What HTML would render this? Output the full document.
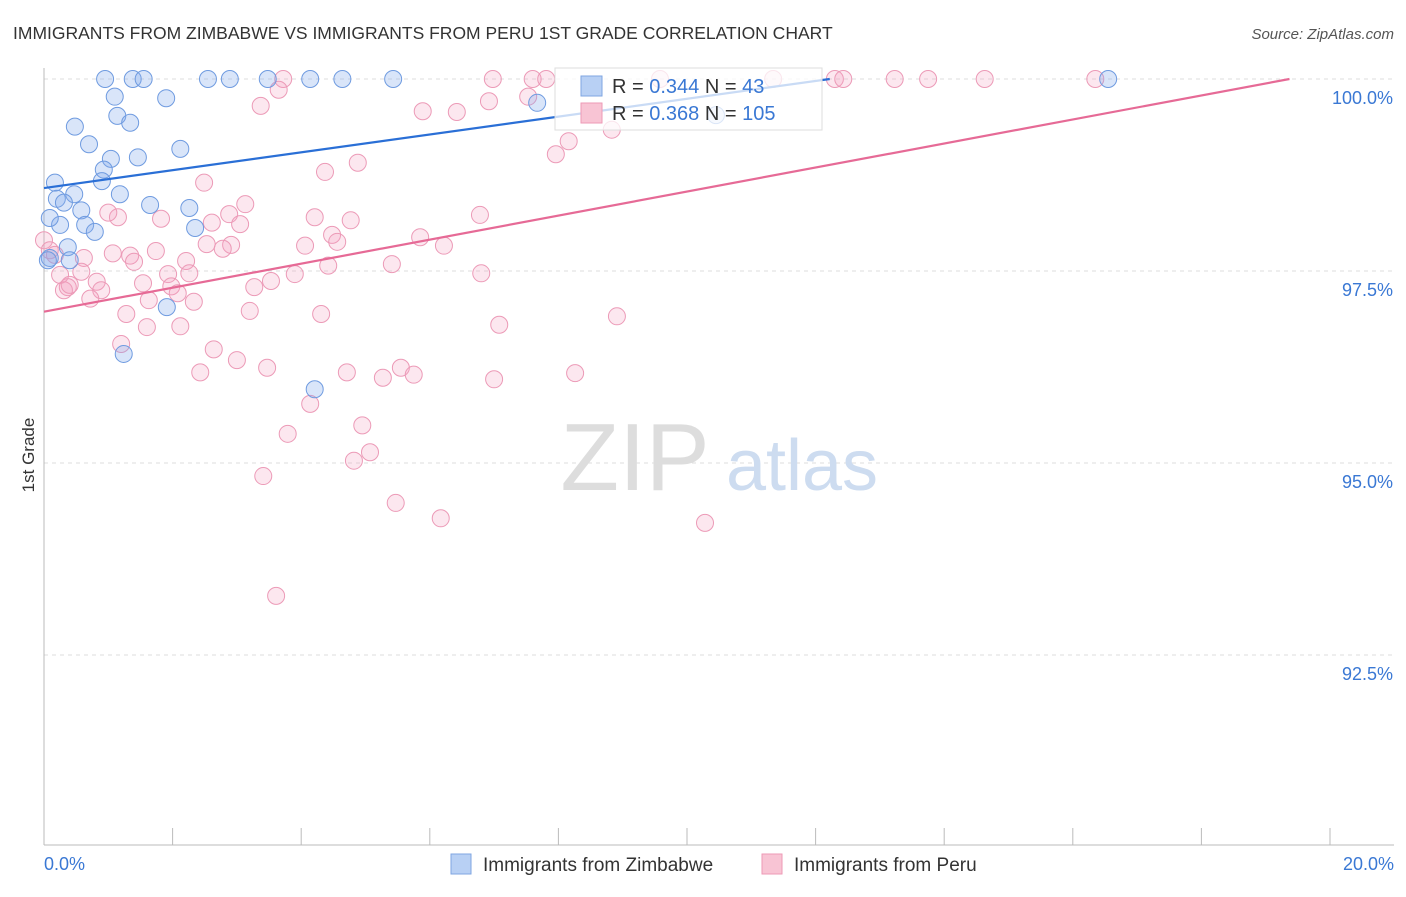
<!DOCTYPE html>
<html><head><meta charset="utf-8"><style>
body{margin:0;background:#fff;font-family:"Liberation Sans",sans-serif;}
svg text{font-family:"Liberation Sans",sans-serif;}
</style></head><body>
<svg id="chart" width="1406" height="892" xmlns="http://www.w3.org/2000/svg">
<text x="13" y="39" font-size="17.5" fill="#333">IMMIGRANTS FROM ZIMBABWE VS IMMIGRANTS FROM PERU 1ST GRADE CORRELATION CHART</text>
<text x="1394" y="39" font-size="15" fill="#555" text-anchor="end" font-style="italic">Source: ZipAtlas.com</text>
<text transform="translate(34,455) rotate(-90)" font-size="17" fill="#333" text-anchor="middle">1st Grade</text>
<g id="grid"></g>
<g>
<text x="635" y="490" font-size="96" fill="#ddd" text-anchor="middle" font-family="Liberation Serif,serif">ZIP</text>
<text x="802" y="490" font-size="72" fill="#cddcf0" text-anchor="middle">atlas</text>
</g>
<g id="axes"></g>
<g id="pts"></g>
<g id="lines"></g>
<g>
<rect x="555" y="68" width="267" height="62" fill="#fff" fill-opacity="0.75" stroke="#ddd"/>
<rect x="581" y="76" width="21" height="20" fill="#b8d0f4" stroke="#7fa6e2"/>
<rect x="581" y="103" width="21" height="20" fill="#f8c4d4" stroke="#ee9ab6"/>
<text x="612" y="93" font-size="20" fill="#333">R = <tspan fill="#3a78d4">0.344</tspan>   N =  <tspan fill="#3a78d4">43</tspan></text>
<text x="612" y="120" font-size="20" fill="#333">R = <tspan fill="#3a78d4">0.368</tspan>   N = <tspan fill="#3a78d4">105</tspan></text>
</g>
<g>
<rect x="451" y="854" width="20" height="20" fill="#b8d0f4" stroke="#7fa6e2"/>
<text x="483" y="871" font-size="19" fill="#333">Immigrants from Zimbabwe</text>
<rect x="762" y="854" width="20" height="20" fill="#f8c4d4" stroke="#ee9ab6"/>
<text x="794" y="871" font-size="19" fill="#333">Immigrants from Peru</text>
</g>
</svg>
<script>
const yTicks=[100,97.5,95,92.5];
const yTickLabels=["100.0%","97.5%","95.0%","92.5%"];
const xTickLabels=["0.0%","20.0%"];
const blueX=[0.95,1.38,1.55,2.55,2.89,3.48,4.14,4.64,5.43,16.55,1.10,1.90,1.14,1.34,0.48,0.70,2.12,1.04,1.46,0.93,0.17,0.90,1.18,0.47,0.20,0.31,1.65,0.58,2.26,0.25,0.64,2.35,0.79,0.09,0.37,0.09,0.40,1.91,1.24,4.21,7.67,10.45,0.06];
const blueY=[100,100,100,100,100,100,100,100,100,100,99.77,99.75,99.52,99.43,99.38,99.15,99.09,98.96,98.98,98.82,98.65,98.67,98.50,98.50,98.44,98.39,98.36,98.29,98.32,98.10,98.10,98.06,98.01,98.19,97.81,97.67,97.64,97.03,96.42,95.96,99.69,99.53,97.64];
const pinkX=[3.72,6.98,7.60,7.81,9.58,11.34,12.30,12.43,13.23,13.75,14.63,16.35,3.65,3.37,5.89,6.42,6.92,7.53,8.16,7.96,8.83,4.88,4.37,2.49,3.13,2.88,6.78,4.21,4.77,2.61,3.05,1.15,1.00,1.82,4.48,4.56,5.85,6.22,2.53,4.06,2.91,2.78,1.74,1.07,1.34,2.21,1.40,0.62,4.42,5.41,6.80,2.26,1.93,0.58,0.82,1.54,1.98,3.53,3.90,3.27,0.89,0.37,0.31,2.08,0.72,1.63,2.33,3.20,1.28,4.31,1.60,2.12,7.08,8.91,1.20,2.64,3.00,2.43,3.47,4.71,5.27,5.55,5.75,7.00,8.26,4.14,4.95,3.79,5.07,4.82,3.41,5.47,6.17,10.28,3.61,0,0.09,0.25,0.40,0.17];
const pinkY=[100,100,100,100,100,100,100,100,100,100,100,100,99.86,99.65,99.58,99.57,99.71,99.77,99.19,99.02,99.34,98.91,98.79,98.65,98.37,98.24,98.23,98.20,98.16,98.13,98.11,98.20,98.26,98.18,97.97,97.88,97.94,97.83,97.85,97.83,97.84,97.79,97.76,97.73,97.70,97.63,97.62,97.67,97.57,97.59,97.47,97.47,97.46,97.49,97.36,97.34,97.30,97.37,97.46,97.29,97.25,97.29,97.25,97.21,97.14,97.12,97.10,96.98,96.94,96.94,96.77,96.78,96.80,96.91,96.55,96.48,96.34,96.18,96.24,96.18,96.11,96.24,96.15,96.09,96.17,95.77,95.49,95.38,95.14,95.03,94.83,94.48,94.28,94.22,93.27,97.90,97.77,97.45,97.32,97.71];
const blueTrend=[[0,98.58],[12.22,100]];
const pinkTrend=[[0,96.97],[19.37,100]];
const NS="http://www.w3.org/2000/svg";
const X0=44,X1=1330,Y0=79,YB=845;
function sx(v){return X0+(v/20)*(X1-X0);}
function sy(v){return Y0+(100-v)*76.8;}
function mk(tag,attrs,parent){const e=document.createElementNS(NS,tag);for(const k in attrs)e.setAttribute(k,attrs[k]);parent.appendChild(e);return e;}
const grid=document.getElementById('grid'),axes=document.getElementById('axes'),pts=document.getElementById('pts'),lines=document.getElementById('lines');
yTicks.forEach((t,i)=>{
  const l=mk('line',{x1:X0,x2:1394,y1:sy(t),y2:sy(t),stroke:'#ddd','stroke-dasharray':'4,4'},grid);
  
  
  const tx=mk('text',{x:1393,y:sy(t)+25,'font-size':18,fill:'#3a78d4','text-anchor':'end'},axes);
  tx.textContent=yTickLabels[i];
  
  
});
mk('line',{x1:X0,x2:X0,y1:68,y2:YB,stroke:'#bbb'},axes);
mk('line',{x1:X0,x2:1394,y1:YB,y2:YB,stroke:'#bbb'},axes);
for(let i=0;i<=10;i++){const x=sx(i*2);const tk=mk('line',{x1:x,x2:x,y1:YB,y2:YB-17,stroke:'#bbb'},axes);}
const xl0=mk('text',{x:44,y:870,'font-size':18,fill:'#3a78d4'},axes);xl0.textContent=xTickLabels[0];


const xl1=mk('text',{x:1394,y:870,'font-size':18,fill:'#3a78d4','text-anchor':'end'},axes);xl1.textContent=xTickLabels[1];


pinkX.forEach((v,i)=>{const c=mk('circle',{cx:sx(v),cy:sy(pinkY[i]),r:8.5,fill:'rgba(244,160,190,0.25)',stroke:'#ec9ab7','stroke-width':1},pts);

});
blueX.forEach((v,i)=>{const c=mk('circle',{cx:sx(v),cy:sy(blueY[i]),r:8.5,fill:'rgba(130,170,235,0.3)',stroke:'#6f9be0','stroke-width':1},pts);

});
const bl=mk('line',{x1:sx(blueTrend[0][0]),y1:sy(blueTrend[0][1]),x2:sx(blueTrend[1][0]),y2:sy(blueTrend[1][1]),stroke:'#2a6fd6','stroke-width':2.2},lines);


const pl=mk('line',{x1:sx(pinkTrend[0][0]),y1:sy(pinkTrend[0][1]),x2:sx(pinkTrend[1][0]),y2:sy(pinkTrend[1][1]),stroke:'#e66a96','stroke-width':2.2},lines);


</script>
</body></html>
